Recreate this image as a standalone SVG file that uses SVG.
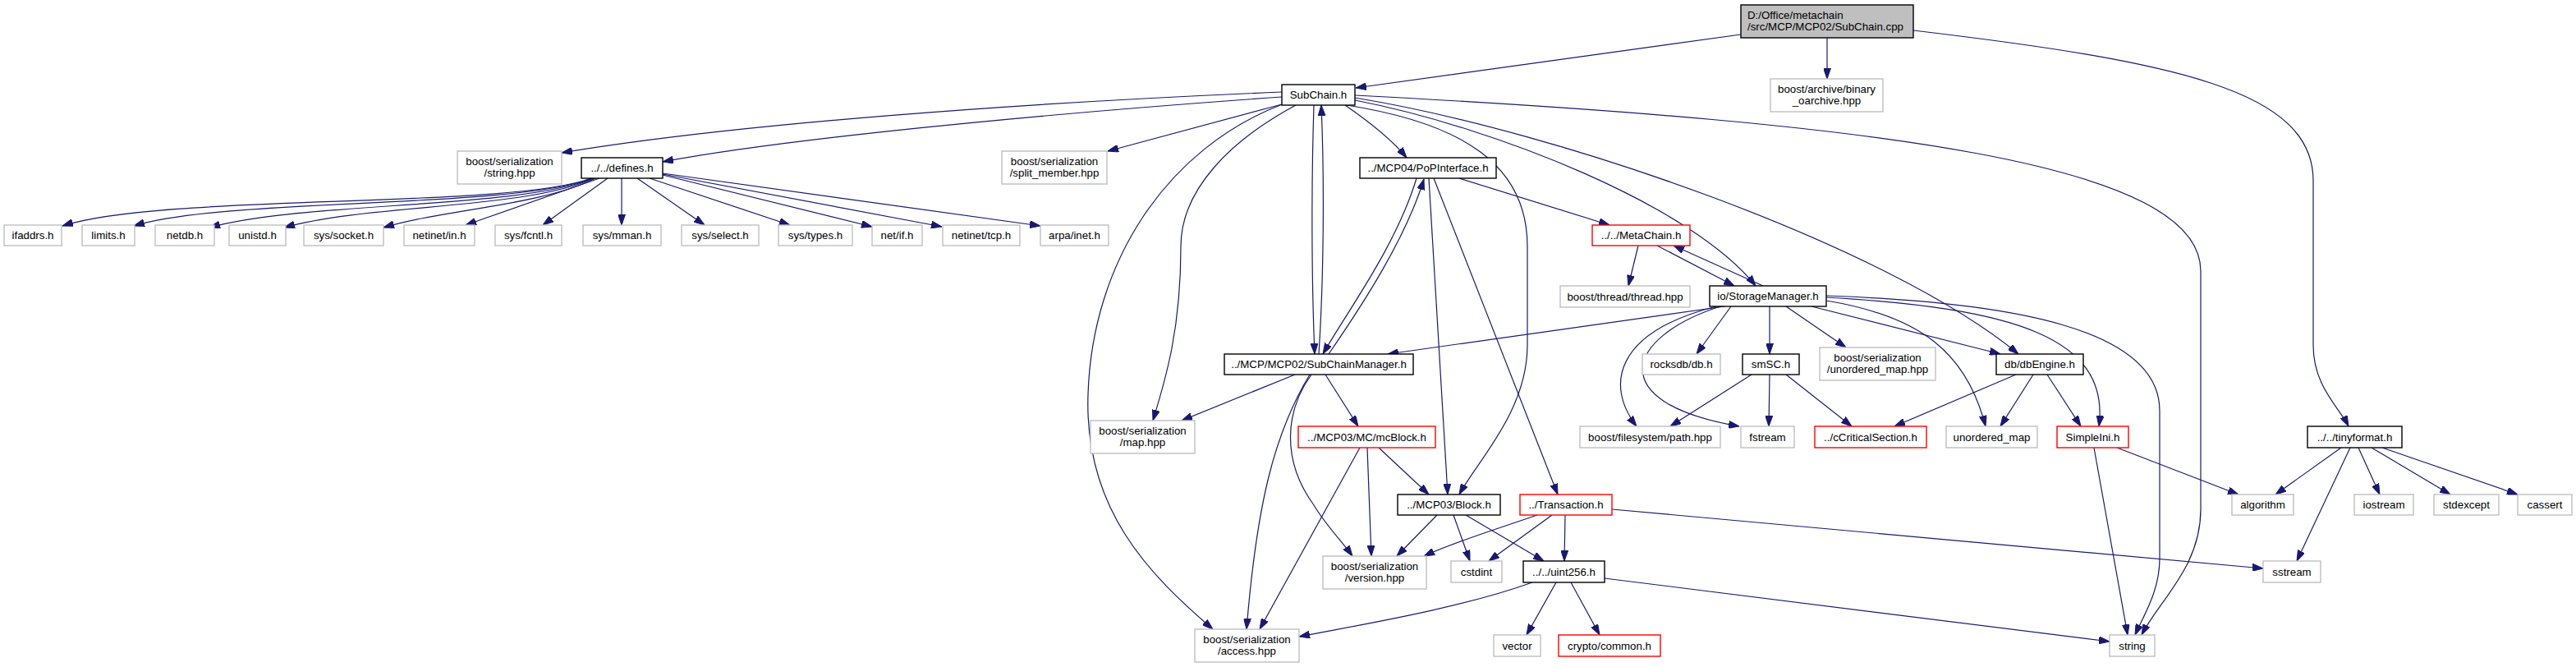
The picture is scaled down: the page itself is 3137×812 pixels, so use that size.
<svg xmlns="http://www.w3.org/2000/svg" width="3137" height="812" viewBox="0 0 3137 812">
<style>
.bg{fill:#ffffff}
.e{fill:none;stroke:#191970;stroke-width:1.2;marker-end:url(#a)}
.g rect{fill:#ffffff;stroke:#bfbfbf;stroke-width:1.4}
.k rect{fill:#ffffff;stroke:#000000;stroke-width:1.4}
.r rect{fill:#ffffff;stroke:#ff0000;stroke-width:1.4}
.root rect{fill:#bfbfbf;stroke:#000000;stroke-width:1.4}
text{font-family:"Liberation Sans",Arial,sans-serif;font-size:13.3px;fill:#000000;text-anchor:middle}
.root text{text-anchor:start}
</style>
<defs>
<marker id="a" markerWidth="13" markerHeight="9" refX="13" refY="4.5" orient="auto" markerUnits="userSpaceOnUse">
<path d="M0,0 L13,4.5 L0,9 z" fill="#191970" stroke="#191970" stroke-width="1"/>
</marker>
</defs>
<rect class="bg" x="0" y="0" width="3137" height="812"/>
<g id="edges">
<path class="e" d="M2120,42 L1651,107"/>
<path class="e" d="M2225,46 L2225,96"/>
<path class="e" d="M2330,37 C2650,75 2817,110 2817,220 L2817,420 C2817,470 2848,495 2860,519"/>
<path class="e" d="M1561,112 C1250,125 900,150 684,186"/>
<path class="e" d="M1561,118 C1250,140 950,170 807,197"/>
<path class="e" d="M1561,127 L1349,184"/>
<path class="e" d="M1638,128 C1670,150 1695,170 1713,192"/>
<path class="e" d="M1600,128 C1597,220 1597,340 1601,431"/>
<path class="e" d="M1606,431 C1612,340 1613,220 1609,128"/>
<path class="e" d="M1650,122 C1820,155 2060,250 2138,348"/>
<path class="e" d="M1650,119 C1900,160 2300,300 2458,431"/>
<path class="e" d="M1650,116 C2300,150 2680,200 2680,330 L2680,620 C2680,690 2630,730 2608,773"/>
<path class="e" d="M1564,126 C1420,180 1330,320 1325,480 C1320,620 1400,700 1477,766"/>
<path class="e" d="M1578,128 C1500,170 1438,230 1438,300 C1438,400 1420,460 1404,512"/>
<path class="e" d="M1640,128 C1780,150 1860,200 1860,300 L1860,420 C1860,500 1800,560 1777,602"/>
<path class="e" d="M1777,217 L1960,274"/>
<path class="e" d="M1740,217 L1763,602"/>
<path class="e" d="M1746,217 L1897,602"/>
<path class="e" d="M1725,217 C1700,300 1640,380 1611,431"/>
<path class="e" d="M1618,431 C1660,370 1712,290 1734,218"/>
<path class="e" d="M1995,299 L1983,348"/>
<path class="e" d="M2018,299 L2112,348"/>
<path class="e" d="M2147,348 L2038,299"/>
<path class="e" d="M2100,373 L1690,431"/>
<path class="e" d="M2090,373 C1965,405 1955,470 1993,519"/>
<path class="e" d="M2095,373 C1980,410 1950,490 2118,519"/>
<path class="e" d="M2108,373 L2066,431"/>
<path class="e" d="M2155,373 L2155,431"/>
<path class="e" d="M2175,373 L2248,423"/>
<path class="e" d="M2206,373 L2436,431"/>
<path class="e" d="M2224,366 C2340,385 2395,430 2418,519"/>
<path class="e" d="M2224,362 C2450,375 2570,410 2556,519"/>
<path class="e" d="M2224,360 C2450,368 2630,400 2630,500 L2630,680 C2630,720 2610,750 2600,773"/>
<path class="e" d="M2133,456 L2034,519"/>
<path class="e" d="M2155,456 L2154,519"/>
<path class="e" d="M2175,456 L2255,519"/>
<path class="e" d="M2455,456 L2307,519"/>
<path class="e" d="M2476,456 L2436,519"/>
<path class="e" d="M2493,456 L2534,519"/>
<path class="e" d="M2578,545 L2726,602"/>
<path class="e" d="M2550,545 L2591,773"/>
<path class="e" d="M2851,545 L2771,602"/>
<path class="e" d="M2862,545 L2797,683"/>
<path class="e" d="M2872,545 L2898,602"/>
<path class="e" d="M2888,545 L2984,602"/>
<path class="e" d="M2901,545 L3066,602"/>
<path class="e" d="M1872,627 C1820,645 1770,660 1734,677"/>
<path class="e" d="M1890,627 L1813,683"/>
<path class="e" d="M1906,627 L1905,683"/>
<path class="e" d="M1963,620 L2756,692"/>
<path class="e" d="M1750,627 L1701,677"/>
<path class="e" d="M1770,627 L1790,683"/>
<path class="e" d="M1785,627 L1880,683"/>
<path class="e" d="M1866,709 C1780,740 1660,760 1582,775"/>
<path class="e" d="M1895,709 L1859,773"/>
<path class="e" d="M1913,709 L1948,773"/>
<path class="e" d="M1954,704 L2569,781"/>
<path class="e" d="M1656,545 L1534,766"/>
<path class="e" d="M1665,545 L1670,677"/>
<path class="e" d="M1679,545 L1740,602"/>
<path class="e" d="M1577,456 L1439,512"/>
<path class="e" d="M1614,456 L1654,519"/>
<path class="e" d="M1597,456 C1565,500 1560,560 1600,615 C1615,640 1635,660 1647,677"/>
<path class="e" d="M1595,456 C1550,530 1530,620 1518,766"/>
<path class="e" d="M720,217 C620,255 200,235 76,275"/>
<path class="e" d="M721,217 C620,255 280,240 163,275"/>
<path class="e" d="M722,217 C630,255 370,245 255,277"/>
<path class="e" d="M723,217 C640,255 450,248 346,277"/>
<path class="e" d="M725,217 C660,250 540,255 467,277"/>
<path class="e" d="M730,217 L567,274"/>
<path class="e" d="M740,217 L661,274"/>
<path class="e" d="M757,217 L757,274"/>
<path class="e" d="M776,217 L858,274"/>
<path class="e" d="M791,217 L962,274"/>
<path class="e" d="M807,213 L1062,276"/>
<path class="e" d="M807,212 L1147,276"/>
<path class="e" d="M807,211 L1267,275"/>
</g>
<g id="n_root" class="root"><rect x="2120" y="6" width="210" height="40"/><text x="2128" y="22.5">D:/Office/metachain</text><text x="2128" y="36.5">/src/MCP/MCP02/SubChain.cpp</text></g>
<g id="n_subchain_h" class="k"><rect x="1561" y="103" width="89" height="25"/><text x="1605.5" y="120">SubChain.h</text></g>
<g id="n_binary_oarchive" class="g"><rect x="2156" y="96" width="137" height="40"/><text x="2224.5" y="112.5">boost/archive/binary</text><text x="2224.5" y="126.5">_oarchive.hpp</text></g>
<g id="n_string_hpp" class="g"><rect x="557" y="184" width="127" height="40"/><text x="620.5" y="200.5">boost/serialization</text><text x="620.5" y="214.5">/string.hpp</text></g>
<g id="n_defines" class="k"><rect x="708" y="192" width="99" height="25"/><text x="757.5" y="209">../../defines.h</text></g>
<g id="n_split_member" class="g"><rect x="1220" y="184" width="128" height="40"/><text x="1284" y="200.5">boost/serialization</text><text x="1284" y="214.5">/split_member.hpp</text></g>
<g id="n_popinterface" class="k"><rect x="1656" y="192" width="166" height="25"/><text x="1739" y="209">../MCP04/PoPInterface.h</text></g>
<g id="n_ifaddrs" class="g"><rect x="5" y="274" width="70" height="25"/><text x="40" y="291">ifaddrs.h</text></g>
<g id="n_limits" class="g"><rect x="100" y="274" width="64" height="25"/><text x="132" y="291">limits.h</text></g>
<g id="n_netdb" class="g"><rect x="189" y="274" width="72" height="25"/><text x="225" y="291">netdb.h</text></g>
<g id="n_unistd" class="g"><rect x="279" y="274" width="69" height="25"/><text x="313.5" y="291">unistd.h</text></g>
<g id="n_sys_socket" class="g"><rect x="370" y="274" width="97" height="25"/><text x="418.5" y="291">sys/socket.h</text></g>
<g id="n_netinet_in" class="g"><rect x="492" y="274" width="86" height="25"/><text x="535" y="291">netinet/in.h</text></g>
<g id="n_sys_fcntl" class="g"><rect x="603" y="274" width="81" height="25"/><text x="643.5" y="291">sys/fcntl.h</text></g>
<g id="n_sys_mman" class="g"><rect x="710" y="274" width="95" height="25"/><text x="757.5" y="291">sys/mman.h</text></g>
<g id="n_sys_select" class="g"><rect x="830" y="274" width="94" height="25"/><text x="877" y="291">sys/select.h</text></g>
<g id="n_sys_types" class="g"><rect x="948" y="274" width="90" height="25"/><text x="993" y="291">sys/types.h</text></g>
<g id="n_net_if" class="g"><rect x="1062" y="274" width="61" height="25"/><text x="1092.5" y="291">net/if.h</text></g>
<g id="n_netinet_tcp" class="g"><rect x="1148" y="274" width="94" height="25"/><text x="1195" y="291">netinet/tcp.h</text></g>
<g id="n_arpa_inet" class="g"><rect x="1267" y="274" width="83" height="25"/><text x="1308.5" y="291">arpa/inet.h</text></g>
<g id="n_metachain" class="r"><rect x="1939" y="274" width="119" height="25"/><text x="1998.5" y="291">../../MetaChain.h</text></g>
<g id="n_thread" class="g"><rect x="1900" y="348" width="158" height="26"/><text x="1979" y="365.5">boost/thread/thread.hpp</text></g>
<g id="n_storagemanager" class="k"><rect x="2082" y="348" width="142" height="25"/><text x="2153" y="365">io/StorageManager.h</text></g>
<g id="n_subchainmanager" class="k"><rect x="1491" y="431" width="230" height="25"/><text x="1606" y="448">../MCP/MCP02/SubChainManager.h</text></g>
<g id="n_rocksdb" class="g"><rect x="2000" y="431" width="95" height="25"/><text x="2047.5" y="448">rocksdb/db.h</text></g>
<g id="n_smsc" class="k"><rect x="2122" y="431" width="69" height="25"/><text x="2156.5" y="448">smSC.h</text></g>
<g id="n_unordered_map_hpp" class="g"><rect x="2216" y="423" width="141" height="40"/><text x="2286.5" y="439.5">boost/serialization</text><text x="2286.5" y="453.5">/unordered_map.hpp</text></g>
<g id="n_dbengine" class="k"><rect x="2431" y="431" width="106" height="25"/><text x="2484" y="448">db/dbEngine.h</text></g>
<g id="n_map_hpp" class="g"><rect x="1328" y="512" width="127" height="40"/><text x="1391.5" y="528.5">boost/serialization</text><text x="1391.5" y="542.5">/map.hpp</text></g>
<g id="n_mcblock" class="r"><rect x="1581" y="519" width="167" height="26"/><text x="1664.5" y="536.5">../MCP03/MC/mcBlock.h</text></g>
<g id="n_path" class="g"><rect x="1924" y="519" width="171" height="26"/><text x="2009.5" y="536.5">boost/filesystem/path.hpp</text></g>
<g id="n_fstream" class="g"><rect x="2120" y="519" width="65" height="26"/><text x="2152.5" y="536.5">fstream</text></g>
<g id="n_ccriticalsection" class="r"><rect x="2210" y="519" width="136" height="26"/><text x="2278" y="536.5">../cCriticalSection.h</text></g>
<g id="n_unordered_map" class="g"><rect x="2370" y="519" width="111" height="26"/><text x="2425.5" y="536.5">unordered_map</text></g>
<g id="n_simpleini" class="r"><rect x="2505" y="519" width="87" height="26"/><text x="2548.5" y="536.5">SimpleIni.h</text></g>
<g id="n_tinyformat" class="k"><rect x="2810" y="519" width="115" height="26"/><text x="2867.5" y="536.5">../../tinyformat.h</text></g>
<g id="n_block" class="k"><rect x="1702" y="602" width="125" height="25"/><text x="1764.5" y="619">../MCP03/Block.h</text></g>
<g id="n_transaction" class="r"><rect x="1851" y="602" width="112" height="25"/><text x="1907" y="619">../Transaction.h</text></g>
<g id="n_algorithm" class="g"><rect x="2718" y="602" width="75" height="25"/><text x="2755.5" y="619">algorithm</text></g>
<g id="n_iostream" class="g"><rect x="2867" y="602" width="72" height="25"/><text x="2903" y="619">iostream</text></g>
<g id="n_stdexcept" class="g"><rect x="2964" y="602" width="79" height="25"/><text x="3003.5" y="619">stdexcept</text></g>
<g id="n_cassert" class="g"><rect x="3066" y="602" width="66" height="25"/><text x="3099" y="619">cassert</text></g>
<g id="n_version" class="g"><rect x="1611" y="677" width="126" height="40"/><text x="1674" y="693.5">boost/serialization</text><text x="1674" y="707.5">/version.hpp</text></g>
<g id="n_cstdint" class="g"><rect x="1767" y="683" width="62" height="26"/><text x="1798" y="700.5">cstdint</text></g>
<g id="n_uint256" class="k"><rect x="1855" y="683" width="99" height="26"/><text x="1904.5" y="700.5">../../uint256.h</text></g>
<g id="n_sstream" class="g"><rect x="2756" y="683" width="70" height="26"/><text x="2791" y="700.5">sstream</text></g>
<g id="n_access" class="g"><rect x="1455" y="766" width="127" height="40"/><text x="1518.5" y="782.5">boost/serialization</text><text x="1518.5" y="796.5">/access.hpp</text></g>
<g id="n_vector" class="g"><rect x="1819" y="773" width="57" height="26"/><text x="1847.5" y="790.5">vector</text></g>
<g id="n_crypto_common" class="r"><rect x="1898" y="773" width="124" height="26"/><text x="1960" y="790.5">crypto/common.h</text></g>
<g id="n_string" class="g"><rect x="2569" y="773" width="55" height="26"/><text x="2596.5" y="790.5">string</text></g>
</svg>
